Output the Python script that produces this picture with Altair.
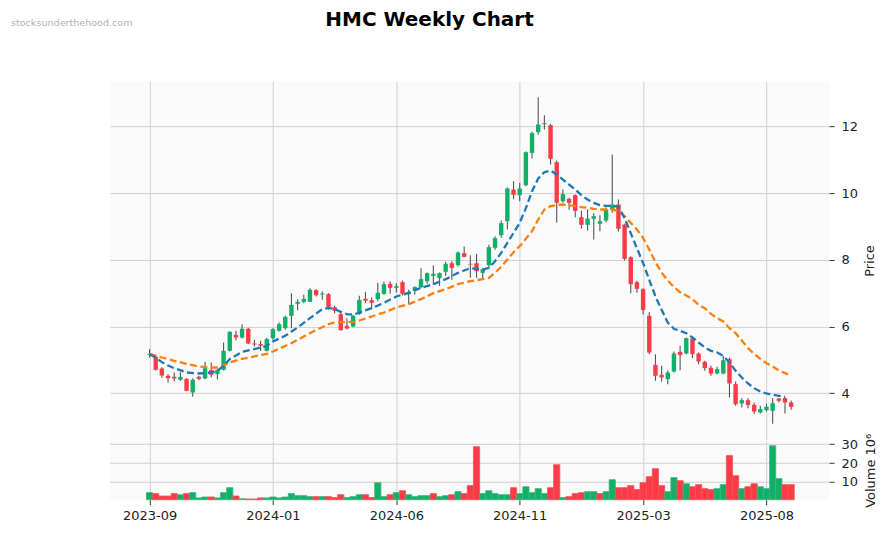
import altair as alt
import pandas as pd

# ---------------- data (weekly candles) ----------------
dates = pd.date_range("2023-09-11", periods=105, freq="7D").strftime("%Y-%m-%dT00:00:00").tolist()

opens = [5.15, 5.09, 4.74, 4.52, 4.49, 4.40, 4.43, 4.02, 4.49, 4.44,
         4.69, 4.57, 4.70, 5.27, 5.75, 5.67, 5.93, 5.49, 5.47, 5.27,
         5.65, 5.87, 5.95, 6.32, 6.68, 6.74, 6.74, 7.09, 6.96, 6.97,
         6.58, 6.37, 6.02, 6.00, 6.37, 6.83, 6.79, 6.82, 6.98, 7.28,
         7.16, 7.33, 6.97, 7.07, 7.18, 7.36, 7.52, 7.45, 7.64, 7.90,
         7.84, 8.20, 7.88, 7.90, 7.61, 7.84, 8.36, 8.74, 9.16, 10.11,
         9.94, 10.24, 11.21, 11.83, 12.10, 12.04, 10.93, 9.76, 9.83, 9.94,
         9.28, 9.05, 9.23, 9.08, 9.18, 9.50, 9.66, 9.06, 8.08, 7.33,
         7.12, 6.32, 4.85, 4.55, 4.42, 4.65, 5.24, 5.19, 5.64, 5.19,
         4.94, 4.76, 4.59, 4.59, 5.02, 4.27, 3.69, 3.79, 3.65, 3.42,
         3.49, 3.47, 3.84, 3.85, 3.72]
highs = [5.32, 5.15, 4.78, 4.57, 4.62, 4.63, 4.45, 4.45, 4.52, 4.94,
         4.92, 4.72, 5.52, 5.86, 5.87, 6.07, 5.96, 5.60, 5.57, 5.66,
         5.95, 6.12, 6.32, 7.00, 6.82, 6.95, 7.15, 7.12, 7.05, 7.00,
         6.62, 6.42, 6.25, 6.35, 6.92, 7.04, 6.88, 7.31, 7.35, 7.36,
         7.30, 7.38, 7.10, 7.21, 7.75, 7.62, 7.84, 7.62, 7.94, 7.96,
         8.25, 8.40, 8.14, 8.18, 7.75, 8.45, 8.71, 9.18, 10.17, 10.36,
         10.31, 11.25, 11.84, 12.88, 12.34, 12.08, 10.98, 10.11, 9.86, 9.96,
         9.47, 9.52, 9.40, 9.34, 9.58, 11.16, 9.81, 9.08, 8.11, 7.37,
         7.15, 6.43, 5.17, 4.82, 4.68, 5.25, 5.42, 5.67, 5.67, 5.22,
         4.97, 4.82, 4.79, 5.12, 5.07, 4.35, 3.85, 3.85, 3.72, 3.62,
         3.68, 3.85, 3.86, 3.88, 3.78]
lows = [5.07, 4.68, 4.46, 4.32, 4.35, 4.37, 4.06, 3.89, 4.39, 4.42,
        4.48, 4.42, 4.68, 5.25, 5.59, 5.64, 5.47, 5.40, 5.27, 5.25,
        5.60, 5.85, 5.90, 5.95, 6.49, 6.70, 6.74, 6.90, 6.80, 6.50,
        6.40, 5.87, 5.92, 5.98, 6.35, 6.70, 6.52, 6.76, 6.95, 6.98,
        7.02, 6.93, 6.67, 6.95, 7.15, 7.28, 7.25, 7.22, 7.52, 7.40,
        7.80, 8.08, 7.46, 7.46, 7.45, 7.76, 8.30, 8.66, 8.91, 9.82,
        9.76, 10.21, 11.04, 11.75, 11.91, 10.86, 9.11, 9.71, 9.50, 9.28,
        8.94, 8.88, 8.61, 8.86, 9.13, 9.41, 8.85, 7.98, 7.00, 7.01,
        6.36, 5.17, 4.37, 4.35, 4.27, 4.62, 4.69, 5.17, 5.05, 4.87,
        4.67, 4.52, 4.57, 4.57, 3.87, 3.62, 3.57, 3.55, 3.38, 3.39,
        3.45, 3.08, 3.72, 3.39, 3.50]
closes = [5.18, 4.70, 4.53, 4.45, 4.44, 4.49, 4.07, 4.40, 4.43, 4.75,
          4.55, 4.70, 5.27, 5.84, 5.67, 5.93, 5.49, 5.46, 5.42, 5.62,
          5.92, 6.07, 6.29, 6.65, 6.74, 6.83, 7.10, 6.94, 6.99, 6.59,
          6.47, 5.89, 5.94, 6.32, 6.80, 6.77, 6.71, 7.01, 7.27, 7.16,
          7.21, 6.98, 7.04, 7.18, 7.42, 7.60, 7.58, 7.60, 7.88, 7.76,
          8.22, 8.09, 7.86, 7.66, 7.72, 8.38, 8.65, 9.10, 10.14, 9.95,
          10.14, 11.23, 11.80, 12.06, 12.07, 11.03, 9.71, 9.97, 9.71, 9.47,
          9.05, 9.24, 9.31, 9.16, 9.51, 9.66, 8.93, 8.03, 7.27, 7.13,
          6.50, 5.22, 4.52, 4.47, 4.62, 5.19, 5.14, 5.65, 5.17, 4.95,
          4.75, 4.59, 4.72, 4.99, 4.29, 3.67, 3.79, 3.64, 3.45, 3.52,
          3.59, 3.70, 3.77, 3.72, 3.59]
volumes = [4.4, 3.9, 2.6, 2.6, 3.9, 3.3, 3.9, 4.4, 1.6, 2.1,
           2.1, 1.6, 4.4, 7.0, 2.6, 1.2, 1.05, 1.05, 1.6, 1.6,
           2.1, 1.6, 2.1, 3.9, 2.8, 2.8, 2.3, 2.3, 2.3, 2.3,
           1.8, 3.3, 1.8, 2.3, 3.3, 3.3, 1.8, 9.6, 2.3, 3.3,
           4.4, 5.4, 3.3, 2.3, 2.8, 2.8, 3.9, 2.3, 2.8, 3.3,
           4.9, 3.9, 8.1, 28.6, 3.9, 5.4, 3.9, 3.3, 3.3, 7.0,
           3.9, 7.5, 4.4, 6.5, 3.9, 7.0, 19.1, 1.75, 2.3, 3.9,
           4.4, 4.9, 4.9, 3.9, 4.9, 11.2, 7.0, 7.0, 8.1, 6.0,
           9.6, 12.8, 17.0, 8.1, 4.9, 12.3, 10.7, 9.1, 7.5, 8.6,
           6.5, 6.0, 6.5, 8.6, 23.9, 13.3, 6.5, 7.5, 9.1, 7.5,
           6.5, 29.1, 11.8, 8.6, 8.6]
vol_dir = list("GRRRRGRGGGRGGGRGRRRG"
               "GGGGGGGRGRRRGGGRRGGR"
               "GRGGGGRGGRGRRRGGGGGR"
               "GGGGGRRGRRRGGRGGRRRR"
               "RRRRGGRGRRRRGGRRGRRG"
               "GGGRR")

# moving averages (candle index -> value)
blue_idx = [0, 1, 2, 3, 4, 6, 8, 10, 11, 12, 13, 15, 17, 19, 20, 22, 24, 26, 28, 29,
            30, 31, 32, 33, 34, 36, 38, 40, 42, 44, 46, 48, 50, 52, 54, 55, 56, 57, 58, 59,
            60, 61, 62, 63, 64, 65, 66, 67, 68, 69, 70, 71, 72, 73, 74, 75, 76, 77, 78, 79,
            80, 81, 82, 83, 84, 85, 86, 87, 88, 89, 90, 91, 92, 93, 94, 95, 96, 97, 98, 99,
            100, 101, 102, 103]
blue_val = [5.17, 5.07, 4.93, 4.83, 4.75, 4.62, 4.59, 4.62, 4.67, 4.82, 5.02, 5.24, 5.32, 5.42, 5.55,
            5.72, 5.97, 6.25, 6.52, 6.56, 6.52, 6.44, 6.37, 6.35, 6.42, 6.55, 6.71, 6.90, 7.01, 7.16,
            7.27, 7.42, 7.61, 7.75, 7.71, 7.76, 7.96, 8.21, 8.51, 8.81, 9.11, 9.55, 10.06, 10.44, 10.63,
            10.68, 10.56, 10.41, 10.26, 10.11, 9.94, 9.81, 9.71, 9.64, 9.62, 9.62, 9.60, 9.25, 8.80, 8.35,
            7.90, 7.40, 6.90, 6.50, 6.12, 5.93, 5.87, 5.80, 5.67, 5.52, 5.37, 5.27, 5.22, 5.12, 4.92,
            4.67, 4.47, 4.29, 4.15, 4.05, 3.99, 3.95, 3.92, 3.89]
orange_idx = [0, 2, 4, 6, 8, 10, 11, 12, 13, 15, 17, 19, 20, 23, 26, 29, 30, 32, 33, 34,
              36, 38, 40, 42, 44, 46, 48, 50, 52, 54, 55, 56, 57, 58, 59, 60, 61, 62, 63, 64,
              65, 66, 67, 68, 69, 70, 71, 72, 73, 75, 76, 77, 78, 79, 80, 81, 82, 83, 84, 85,
              86, 87, 88, 89, 90, 91, 92, 93, 94, 95, 96, 97, 98, 99, 100, 101, 102, 103, 104]
orange_val = [5.18, 5.07, 4.97, 4.88, 4.80, 4.77, 4.77, 4.83, 4.92, 5.03, 5.10, 5.18, 5.25, 5.50, 5.80,
              6.07, 6.12, 6.14, 6.13, 6.18, 6.30, 6.42, 6.57, 6.67, 6.82, 7.00, 7.12, 7.27, 7.36, 7.42,
              7.46, 7.61, 7.79, 8.01, 8.23, 8.41, 8.63, 8.86, 9.21, 9.51, 9.61, 9.64, 9.66, 9.64, 9.61,
              9.58, 9.56, 9.53, 9.51, 9.51, 9.46, 9.31, 9.11, 8.91, 8.66, 8.31, 7.93, 7.62, 7.38, 7.18,
              7.03, 6.93, 6.82, 6.65, 6.55, 6.38, 6.25, 6.15, 5.95, 5.80, 5.58, 5.35, 5.18, 5.03, 4.90,
              4.80, 4.68, 4.60, 4.52]

x_ticks = ["2023-09-11", "2024-01-29", "2024-06-17", "2024-11-04", "2025-03-24", "2025-08-11"]
title_text = "HMC Weekly Chart"
watermark_text = "stocksunderthehood.com"

# ---------------- tables ----------------
df = pd.DataFrame({"date": dates, "open": opens, "high": highs, "low": lows,
                   "close": closes, "volume": volumes, "vdir": vol_dir})
df["dir"] = ["G" if c >= o else "R" for o, c in zip(opens, closes)]
blue_df = pd.DataFrame({"date": [dates[i] for i in blue_idx], "ma": blue_val})
orange_df = pd.DataFrame({"date": [dates[i] for i in orange_idx], "ma": orange_val})

FONT = "DejaVu Sans"


def dt(s):
    y, m, d = (int(v) for v in s.split("-"))
    return alt.DateTime(year=y, month=m, date=d)


x_scale = alt.Scale(domain=[dt("2023-07-28"), dt("2025-10-21")], nice=False, padding=0)
tick_vals = [dt(s) for s in x_ticks]

x_price = alt.X("date:T", scale=x_scale,
                axis=alt.Axis(values=tick_vals, labels=False, ticks=False, domain=False,
                              grid=True, title=None))
x_vol = alt.X("date:T", scale=x_scale,
              axis=alt.Axis(values=tick_vals, format="%Y-%m", labelAngle=0, title=None,
                            grid=True, ticks=True, domain=False, labelPadding=5))

y_price_scale = alt.Scale(domain=[2.6, 13.36], nice=False, zero=False, padding=0)
y_price_axis = alt.Axis(orient="right", values=[4, 6, 8, 10, 12], title="Price",
                        titleAngle=270, titleBaseline="top", titlePadding=6, labelPadding=7)

candle_color = alt.Color("dir:N", scale=alt.Scale(domain=["G", "R"], range=["#10b068", "#fd3a45"]),
                         legend=None)

base = alt.Chart(df)
wicks = base.mark_rule(color="#555555", strokeWidth=1.1).encode(
    x=x_price,
    y=alt.Y("low:Q", scale=y_price_scale, axis=y_price_axis),
    y2="high:Q",
)
bodies = base.mark_bar(size=4.4).encode(
    x=x_price,
    y=alt.Y("open:Q", scale=y_price_scale),
    y2="close:Q",
    color=candle_color,
)
blue_line = alt.Chart(blue_df).mark_line(color="#1f77b4", strokeWidth=2.3, strokeDash=[7, 3.5]).encode(
    x=x_price, y=alt.Y("ma:Q", scale=y_price_scale))
orange_line = alt.Chart(orange_df).mark_line(color="#ff7f0e", strokeWidth=2.3, strokeDash=[7, 3.5]).encode(
    x=x_price, y=alt.Y("ma:Q", scale=y_price_scale))

title_mark = alt.Chart(pd.DataFrame({"t": [title_text]})).mark_text(
    font=FONT, fontSize=20, fontWeight="bold", color="#000000", align="center", baseline="middle"
).encode(text="t:N", x=alt.value(320), y=alt.value(-61))
wm_mark = alt.Chart(pd.DataFrame({"t": [watermark_text]})).mark_text(
    font=FONT, fontSize=9.6, color="#b0b0b0", align="left", baseline="middle"
).encode(text="t:N", x=alt.value(-99), y=alt.value(-58))

price = alt.layer(wicks, bodies, orange_line, blue_line, title_mark, wm_mark).properties(
    width=720, height=359)

vol_color = alt.Color("vdir:N", scale=alt.Scale(domain=["G", "R"], range=["#4cc38e", "#ff6b6b"]),
                      legend=None)
vol_stroke = alt.Stroke("vdir:N", scale=alt.Scale(domain=["G", "R"], range=["#3db47f", "#f05555"]),
                        legend=None)
volume = alt.Chart(df).mark_bar(size=6.2, strokeWidth=0.8).encode(
    x=x_vol,
    y=alt.Y("volume:Q", scale=alt.Scale(domain=[0.65, 31.7], nice=False, zero=False, padding=0),
            axis=alt.Axis(orient="right", values=[10, 20, 30], title="Volume    10⁶",
                          titleAngle=270, titleBaseline="top", titlePadding=7, labelPadding=7)),
    y2=alt.datum(0.65),
    color=vol_color,
    stroke=vol_stroke,
).properties(width=720, height=59)

chart = alt.vconcat(price, volume, spacing=1, bounds="flush").properties(
    padding={"left": 3, "top": 2, "right": 5, "bottom": 5}
).configure_view(fill="#fafafa", stroke=None).configure_axis(
    labelFont=FONT, labelFontSize=13, labelColor="#222222",
    titleFont=FONT, titleFontSize=13, titleFontWeight="normal", titleColor="#222222",
    gridColor="#d0d0d0", gridWidth=1, tickColor="#333333", tickSize=5, domain=False,
)

chart.save("out.html", embed_options={"renderer": "svg", "actions": False})
